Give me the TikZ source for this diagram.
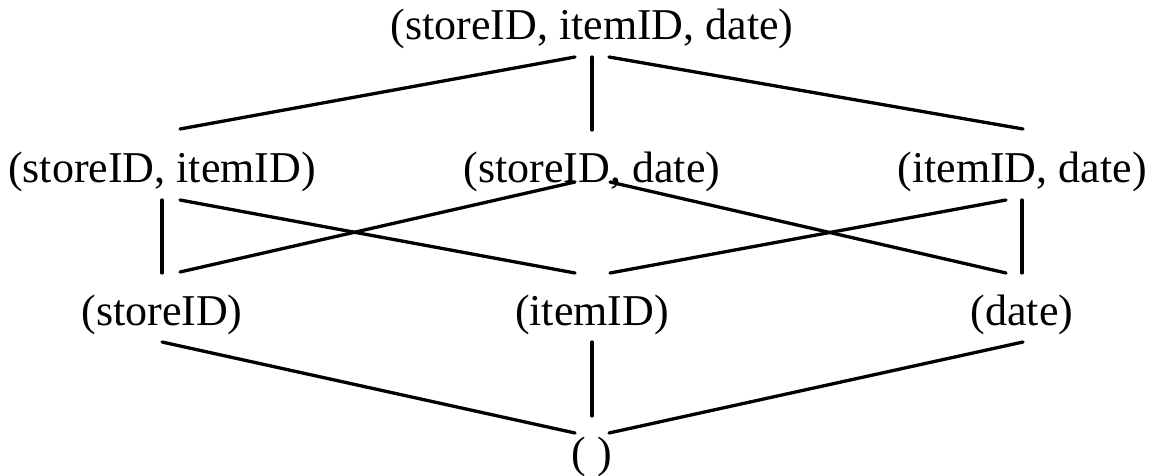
\documentclass[tikz,border=0pt]{standalone}
\usepackage{fontspec}
\setmainfont{Liberation Serif}
\usetikzlibrary{calc}
\begin{document}
\begin{tikzpicture}[x=1pt,y=-1pt,
  lattice/.style={inner sep=0pt,anchor=base,font=\fontsize{44}{52}\selectfont},
  edge/.style={line width=3.3pt,line cap=round}]
\useasboundingbox (0,0) rectangle (1153,476);
% cuboid lattice nodes, placed by their baselines
\node[lattice] (top) at (592,40) {(storeID, itemID, date)};
\node[lattice] (m1) at (162,182) {(storeID, itemID)};
\node[lattice] (m2) at (592,182) {(storeID, date)};
\node[lattice] (m3) at (1022,182) {(itemID, date)};
\node[lattice] (b1) at (162,325) {(storeID)};
\node[lattice] (b2) at (592,325) {(itemID)};
\node[lattice] (b3) at (1022,325) {(date)};
\node[lattice] (e) at (592,467) {( )};
% top level to 2-D cuboids
\draw[edge] ($(top.base)+(-17,17)$) -- ($(m1.base)+(18,-53)$);
\draw[edge] ($(top.base)+(0,17)$) -- ($(m2.base)+(0,-52)$);
\draw[edge] ($(top.base)+(17,17)$) -- ($(m3.base)+(1,-53)$);
% 2-D cuboids to 1-D cuboids
\draw[edge] ($(m1.base)+(0,18)$) -- ($(b1.base)+(0,-52)$);
\draw[edge] ($(m1.base)+(18,18)$) -- ($(b2.base)+(-17,-52)$);
\draw[edge] ($(m2.base)+(-17,0)$) -- ($(b1.base)+(18,-53)$);
\draw[edge] ($(m2.base)+(18,0)$) -- ($(b3.base)+(-16,-52)$);
\draw[edge] ($(m3.base)+(-16,18)$) -- ($(b2.base)+(18,-52)$);
\draw[edge] ($(m3.base)+(0,18)$) -- ($(b3.base)+(0,-52)$);
% 1-D cuboids to the apex
\draw[edge] ($(b1.base)+(0,17)$) -- ($(e.base)+(-17,-34)$);
\draw[edge] ($(b2.base)+(0,17)$) -- ($(e.base)+(0,-51)$);
\draw[edge] ($(b3.base)+(1,17)$) -- ($(e.base)+(17,-34)$);
\end{tikzpicture}
\end{document}
